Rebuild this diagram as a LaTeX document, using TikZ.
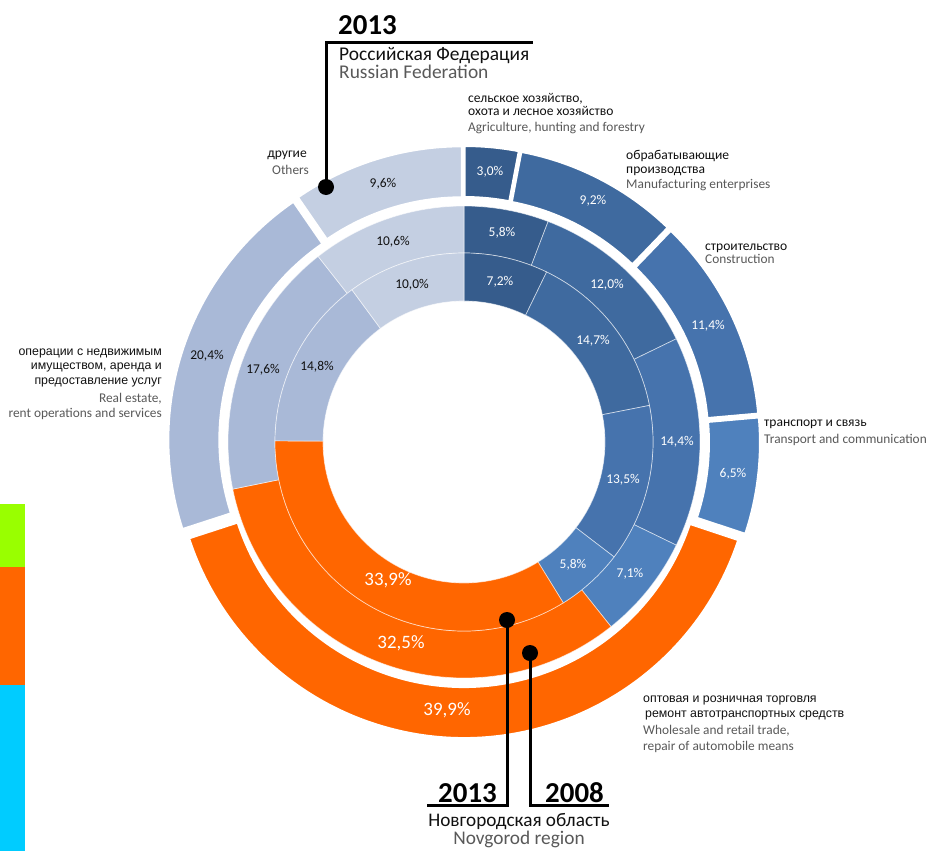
\documentclass[tikz,border=0pt]{standalone}
\usepackage{fontspec}
\setmainfont{Carlito}
\newfontfamily\arialfont{Liberation Sans}
\definecolor{cAgri}{HTML}{365C8C}
\definecolor{cMan}{HTML}{3F6A9F}
\definecolor{cCon}{HTML}{4673AD}
\definecolor{cTra}{HTML}{4F81BD}
\definecolor{cTrade}{HTML}{FF6600}
\definecolor{cReal}{HTML}{A9B9D7}
\definecolor{cOth}{HTML}{C4CFE2}
\definecolor{txtdark}{HTML}{111111}
\definecolor{txtgray}{HTML}{595959}
\definecolor{barGreen}{HTML}{99FF00}
\definecolor{barOrange}{HTML}{FF6600}
\definecolor{barCyan}{HTML}{00CCFF}
\newcommand{\ringseg}[6]{%
  \pgfmathsetmacro{\segA}{#3-90}%
  \pgfmathsetmacro{\segB}{#4-90}%
  \pgfmathsetmacro{\segM}{(#3+#4)/2-90}%
  \begin{scope}[shift={(\segM:#6)}]
    \path[#5] (\segA:#2) arc[start angle=\segA, end angle=\segB, radius=#2]
      -- (\segB:#1) arc[start angle=\segB, end angle=\segA, radius=#1] -- cycle;
  \end{scope}}
\tikzset{
  outerseg/.style={fill=#1, draw=white, line width=2bp},
  innerseg/.style={fill=#1, draw=white, draw opacity=0.6, line width=0.7bp},
  pct/.style={font=\fontsize{13.5}{14}\selectfont, anchor=mid, inner sep=0pt},
  pctw/.style={pct, text=white},
  pctb/.style={pct, text=txtdark},
  pctbig/.style={font=\fontsize{19}{20}\selectfont, text=white, anchor=mid, inner sep=0pt},
  rulab/.style={font=\fontsize{13.6}{14}\selectfont, text=txtdark, inner sep=0pt},
  arlab/.style={font=\arialfont\fontsize{12.4}{13}\selectfont, text=txtdark, inner sep=0pt},
  enlab/.style={font=\fontsize{13.4}{14}\selectfont, text=txtgray, inner sep=0pt},
  callout/.style={line width=3bp, black},
  dotmark/.style={circle, fill=black, minimum size=16bp, inner sep=0pt},
}
\begin{document}
\begin{tikzpicture}[x=1bp, y=-1bp]
\useasboundingbox (0,0) rectangle (929,851);
\fill[white] (0,0) rectangle (929,851);
% side bars
\fill[barGreen] (0,504) rectangle (25,567);
\fill[barOrange] (0,567) rectangle (25,685);
\fill[barCyan] (0,685) rectangle (25,851);

\begin{scope}[shift={(464,442)}]
  % outer ring: Russian Federation 2013
  \ringseg{238}{289}{0}{10.8}{outerseg=cAgri}{7}
  \ringseg{238}{289}{10.8}{43.92}{outerseg=cMan}{7}
  \ringseg{238}{289}{43.92}{84.96}{outerseg=cCon}{7}
  \ringseg{238}{289}{84.96}{108.36}{outerseg=cTra}{7}
  \ringseg{238}{289}{108.36}{252}{outerseg=cTrade}{7}
  \ringseg{238}{289}{252}{325.44}{outerseg=cReal}{7}
  \ringseg{238}{289}{325.44}{360}{outerseg=cOth}{7}
  % middle ring: Novgorod 2008
  \ringseg{189}{236}{0}{20.88}{innerseg=cAgri}{0}
  \ringseg{189}{236}{20.88}{64.08}{innerseg=cMan}{0}
  \ringseg{189}{236}{64.08}{115.92}{innerseg=cCon}{0}
  \ringseg{189}{236}{115.92}{141.48}{innerseg=cTra}{0}
  \ringseg{189}{236}{141.48}{258.48}{innerseg=cTrade}{0}
  \ringseg{189}{236}{258.48}{321.84}{innerseg=cReal}{0}
  \ringseg{189}{236}{321.84}{360}{innerseg=cOth}{0}
  % inner ring: Novgorod 2013
  \ringseg{141}{189}{0}{25.92}{innerseg=cAgri}{0}
  \ringseg{141}{189}{25.92}{78.84}{innerseg=cMan}{0}
  \ringseg{141}{189}{78.84}{127.44}{innerseg=cCon}{0}
  \ringseg{141}{189}{127.44}{148.32}{innerseg=cTra}{0}
  \ringseg{141}{189}{148.32}{270.36}{innerseg=cTrade}{0}
  \ringseg{141}{189}{270.36}{323.64}{innerseg=cReal}{0}
  \ringseg{141}{189}{323.64}{360}{innerseg=cOth}{0}
\end{scope}

% percentage labels, outer ring
\node[pctb] (oOth) at (383,185) {9,6\%};
\node[pctw] (oAgri) at (490,173) {3,0\%};
\node[pctw] (oMan) at (593,202) {9,2\%};
\node[pctw] (oCon) at (708,327) {11,4\%};
\node[pctw] (oTra) at (733,475) {6,5\%};
\node[pctbig] (oTrade) at (447,713) {39,9\%};
\node[pctb] (oReal) at (207,357) {20,4\%};
% middle ring
\node[pctb] (mOth) at (393,243) {10,6\%};
\node[pctw] (mAgri) at (502,234) {5,8\%};
\node[pctw] (mMan) at (607,286) {12,0\%};
\node[pctw] (mCon) at (677,443) {14,4\%};
\node[pctw] (mTra) at (630,575) {7,1\%};
\node[pctbig] (mTrade) at (401,646) {32,5\%};
\node[pctb] (mReal) at (263,371) {17,6\%};
% inner ring
\node[pctb] (iOth) at (412,286) {10,0\%};
\node[pctw] (iAgri) at (500,283) {7,2\%};
\node[pctw] (iMan) at (593,342) {14,7\%};
\node[pctw] (iCon) at (623,481) {13,5\%};
\node[pctw] (iTra) at (573,566) {5,8\%};
\node[pctbig] (iTrade) at (388,583) {33,9\%};
\node[pctb] (iReal) at (317,368) {14,8\%};

% category labels
\node[rulab, anchor=mid east] (othRu) at (307,155) {другие};
\node[enlab, anchor=mid east] (othEn) at (309,172) {Others};
\node[rulab, anchor=mid west] (agriRu1) at (468,100) {сельское хозяйство,};
\node[rulab, anchor=mid west] (agriRu2) at (468,113) {охота и лесное хозяйство};
\node[enlab, anchor=mid west] (agriEn) at (468,129) {Agriculture, hunting and forestry};
\node[rulab, anchor=mid west] (manRu1) at (626,157) {обрабатывающие};
\node[rulab, anchor=mid west] (manRu2) at (626,171) {производства};
\node[enlab, anchor=mid west] (manEn) at (626,186) {Manufacturing enterprises};
\node[rulab, anchor=mid west] (conRu) at (705,248) {строительство};
\node[enlab, anchor=mid west] (conEn) at (705,261) {Construction};
\node[rulab, anchor=mid west] (traRu) at (764,424) {транспорт и связь};
\node[enlab, anchor=mid west] (traEn) at (764,441) {Transport and communication};
\node[arlab, anchor=mid west] (tradeRu1) at (643,700) {оптовая и розничная торговля};
\node[arlab, anchor=mid west] (tradeRu2) at (645,715) {ремонт автотранспортных средств};
\node[enlab, anchor=mid west] (tradeEn1) at (643,732) {Wholesale and retail trade,};
\node[enlab, anchor=mid west] (tradeEn2) at (643,748) {repair of automobile means};
\node[arlab, anchor=mid east] (realRu1) at (162,353) {операции с недвижимым};
\node[arlab, anchor=mid east] (realRu2) at (162,367) {имуществом, аренда и};
\node[arlab, anchor=mid east] (realRu3) at (162,382) {предоставление услуг};
\node[enlab, anchor=mid east] (realEn1) at (162,400) {Real estate,};
\node[enlab, anchor=mid east] (realEn2) at (162,415) {rent operations and services};

% top title and callout
\node[font=\bfseries\fontsize{29}{30}\selectfont, anchor=base west, inner sep=0pt] (rfYear) at (338,34) {2013};
\node[font=\fontsize{19.5}{20}\selectfont, text=txtdark, anchor=base west, inner sep=0pt] (rfRu) at (339,60) {Российская Федерация};
\node[font=\fontsize{19.5}{20}\selectfont, text=txtgray, anchor=base west, inner sep=0pt] (rfEn) at (339,78) {Russian Federation};
\node[dotmark] (rfDot) at (326,187) {};
\coordinate (rfCorner) at (326,42);
\coordinate (rfEnd) at (533,42);
\draw[callout] (rfDot.center) -- (rfCorner) -- (rfEnd);

% bottom titles and callouts
\node[font=\bfseries\fontsize{29}{30}\selectfont, anchor=base west, inner sep=0pt] (ngYearA) at (438,802) {2013};
\node[font=\bfseries\fontsize{29}{30}\selectfont, anchor=base west, inner sep=0pt] (ngYearB) at (545,802) {2008};
\node[font=\fontsize{19.3}{20}\selectfont, text=txtdark, anchor=base, inner sep=0pt, text depth=0pt] (ngRu) at (519,826) {Новгородская область};
\node[font=\fontsize{19.4}{20}\selectfont, text=txtgray, anchor=base, inner sep=0pt, text height=9bp] (ngEn) at (519,844) {Novgorod region};
\node[dotmark] (dotA) at (507,620) {};
\node[dotmark] (dotB) at (530,653) {};
\coordinate (aCorner) at (507,805);
\coordinate (aEnd) at (427,805);
\coordinate (bCorner) at (530,805);
\coordinate (bEnd) at (609,805);
\draw[callout] (dotA.center) -- (aCorner) -- (aEnd);
\draw[callout] (dotB.center) -- (bCorner) -- (bEnd);
\end{tikzpicture}
\end{document}
